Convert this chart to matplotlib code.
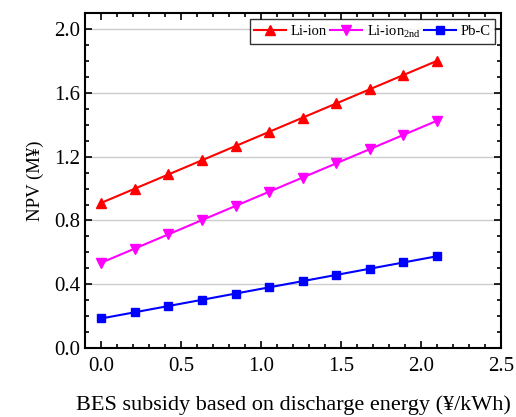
import matplotlib
matplotlib.use("Agg")
import matplotlib.pyplot as plt
from matplotlib.ticker import MultipleLocator

plt.rcParams['font.family'] = ['Liberation Serif', 'DejaVu Serif']
plt.rcParams['mathtext.fontset'] = 'custom'
plt.rcParams['mathtext.rm'] = 'Liberation Serif'

subsidy = [0.0, 0.21, 0.42, 0.63, 0.84, 1.05, 1.26, 1.47, 1.68, 1.89, 2.10]
li_ion = [0.91, 0.999, 1.088, 1.177, 1.266, 1.355, 1.444, 1.533, 1.622, 1.711, 1.80]
li_ion_2nd = [0.535, 0.624, 0.713, 0.802, 0.891, 0.980, 1.069, 1.158, 1.247, 1.336, 1.425]
pb_c = [0.186, 0.225, 0.264, 0.303, 0.342, 0.381, 0.420, 0.459, 0.498, 0.537, 0.576]

fig = plt.figure(figsize=(5.16, 4.17), dpi=100)
ax = fig.add_axes([0.165, 0.165, 0.806, 0.804])

ax.plot(subsidy, li_ion, color='red', marker='^', markersize=7.5, lw=1.5, label='Li-ion')
ax.plot(subsidy, li_ion_2nd, color='magenta', marker='v', markersize=7.5, lw=1.5, label='Li-ion$_{\\mathrm{2nd}}$')
ax.plot(subsidy, pb_c, color='blue', marker='s', markersize=6, lw=1.5, label='Pb-C')

ax.set_xlim(-0.1, 2.5)
ax.set_ylim(0, 2.1)
ax.set_xticks([0, 0.5, 1.0, 1.5, 2.0, 2.5])
ax.set_xticklabels(['0.0', '0.5', '1.0', '1.5', '2.0', '2.5'])
ax.set_yticks([0.0, 0.4, 0.8, 1.2, 1.6, 2.0])
ax.set_yticklabels(['0.0', '0.4', '0.8', '1.2', '1.6', '2.0'])
ax.xaxis.set_minor_locator(MultipleLocator(0.1))
ax.yaxis.set_minor_locator(MultipleLocator(0.1))
ax.yaxis.grid(True, which='major', color='#cccccc', lw=1)
ax.set_axisbelow(True)
ax.tick_params(which='both', direction='in', top=True, right=True, labelsize=15, width=1.2)
ax.tick_params(which='major', length=5)
ax.tick_params(axis='x', which='major', pad=6)
ax.tick_params(which='minor', length=3)
for s in ax.spines.values():
    s.set_linewidth(1.5)

ax.set_xlabel('BES subsidy based on discharge energy (¥/kWh)', fontsize=16, labelpad=14)
ax.set_ylabel('NPV (M¥)', fontsize=13.5, labelpad=7)

leg = ax.legend(loc='upper right', ncol=3, fontsize=10.5, frameon=True, fancybox=False,
                edgecolor='black', handlelength=2.2, columnspacing=0.25, handletextpad=0.3,
                borderpad=0.3, borderaxespad=0.4)
leg.get_frame().set_linewidth(1.0)

fig.savefig('out.png', dpi=100)
